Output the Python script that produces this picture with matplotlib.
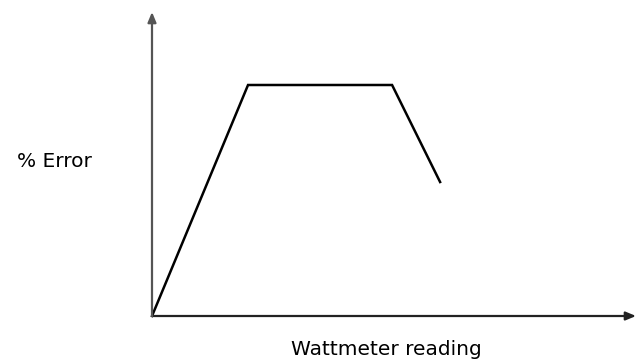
import numpy as np
import matplotlib
matplotlib.use('Agg')
import matplotlib.pyplot as plt

# wattmeter reading (arb. units) vs percentage error
reading = [0, 2, 5, 6]
pct_error = [0, 10, 10, 5.8]

X_MAX = 10.08
Y_MAX = 13.16

fig = plt.figure(figsize=(6.36, 3.64), dpi=100)
ax = fig.add_axes([152 / 636, 48 / 364, 484 / 636, 304 / 364])
ax.set_xlim(0, X_MAX)
ax.set_ylim(0, Y_MAX)
ax.axis('off')

# axes drawn as arrows
ax.annotate('', xy=(X_MAX, 0), xytext=(0, 0), annotation_clip=False,
            arrowprops=dict(arrowstyle='-|>,head_length=0.6,head_width=0.25',
                            color='#222222', lw=1.6, shrinkA=0, shrinkB=0))
ax.annotate('', xy=(0, Y_MAX), xytext=(0, 0), annotation_clip=False,
            arrowprops=dict(arrowstyle='-|>,head_length=0.6,head_width=0.25',
                            color='#555555', lw=1.6, shrinkA=0, shrinkB=0))

ax.plot(reading, pct_error, color='black', lw=1.8, clip_on=False,
        solid_joinstyle='miter')

fig.text(92 / 636, 1 - 167 / 364, '% Error', fontsize=14.5,
         va='baseline', ha='right')
fig.text(386 / 636, 1 - 355 / 364, 'Wattmeter reading', fontsize=14.5,
         va='baseline', ha='center')

fig.savefig('out.png', dpi=100)
